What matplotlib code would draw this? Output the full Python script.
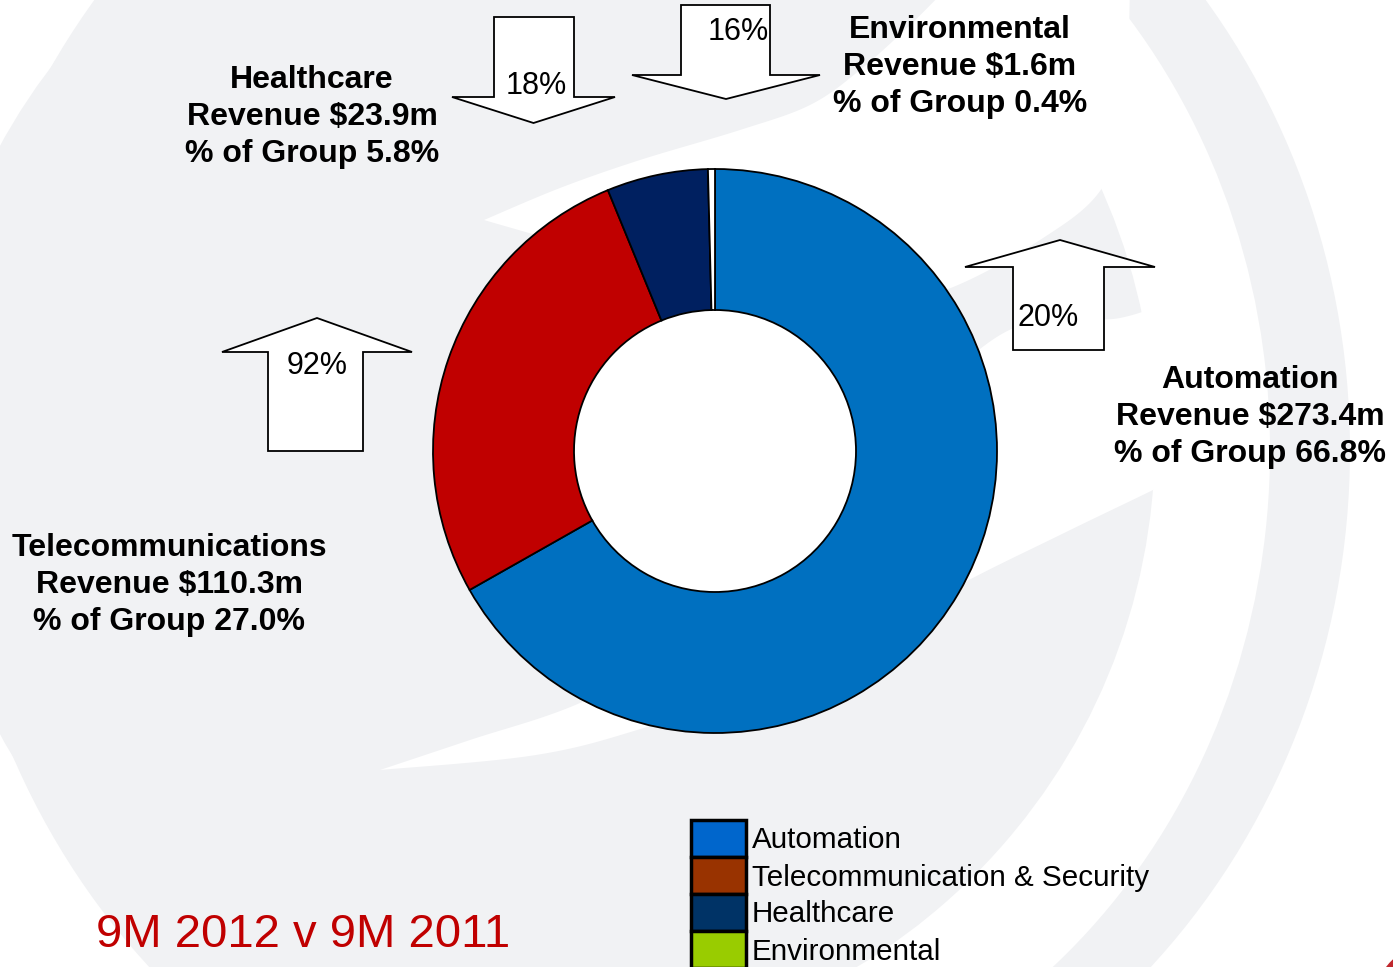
import numpy as np
import matplotlib
matplotlib.use("Agg")
import matplotlib.pyplot as plt
from matplotlib.patches import Ellipse, Circle, Polygon, Rectangle

plt.rcParams["font.family"] = ["Liberation Sans", "DejaVu Sans"]

# ======================
# Data
# ======================
segments = ["Automation", "Telecommunications", "Healthcare", "Environmental"]
share_pct = [66.8, 27.0, 5.8, 0.4]
revenue_m = [273.4, 110.3, 23.9, 1.6]
growth_pct = [20, 92, 18, 16]
growth_dir = ["up", "up", "down", "down"]
legend_names = ["Automation", "Telecommunication & Security", "Healthcare", "Environmental"]
period_title = "9M 2012 v 9M 2011"

ring_colors = ["#0070C0", "#C00000", "#002060", "#FFFFFF"]
legend_colors = ["#0066CC", "#993300", "#003366", "#99CC00"]

# ======================
# Layout (pixel coordinates, y down)
# ======================
W, H = 1393, 967
GREY = "#F1F2F4"
label_xy = [(1250, 417), (169, 585), (312, 117), (960, 67)]
# arrow: shaft x0, x1, head x0, x1, shaft end y, head base y, apex y
arrows = [
    (1013, 1104, 965, 1155, 350, 267, 240),
    (268, 363, 222, 412, 451, 352, 318),
    (494, 574, 452, 615, 17, 97, 123),
    (681, 770, 632, 820, 5, 75, 99),
]
arrow_text_xy = [(1048, 318), (317, 366), (536, 86), (738, 32)]


def smooth(pts, n=24):
    pts = np.asarray(pts, float)
    p = np.vstack([pts[0], pts, pts[-1]])
    out = []
    t = np.linspace(0, 1, n, endpoint=False)[:, None]
    for i in range(1, len(p) - 2):
        p0, p1, p2, p3 = p[i - 1], p[i], p[i + 1], p[i + 2]
        out.append(0.5 * (2 * p1 + (-p0 + p2) * t
                          + (2 * p0 - 5 * p1 + 4 * p2 - p3) * t ** 2
                          + (-p0 + 3 * p1 - 3 * p2 + p3) * t ** 3))
    out.append(pts[-1:])
    return np.vstack(out)


def swoosh(upper, lower):
    return np.vstack([smooth(upper), smooth(lower)[::-1]])


fig = plt.figure(figsize=(W / 100, H / 100), dpi=100)
bg = fig.add_axes([0, 0, 1, 1])
bg.set_xlim(0, W)
bg.set_ylim(H, 0)
bg.axis("off")
fig.patch.set_facecolor("white")

# ======================
# Watermark background
# ======================
bg.add_patch(Ellipse((650, 450), 1400, 1480, color=GREY, lw=0))
crescent = Ellipse((650, 450), 1240, 1360, color="white", lw=0)
bg.add_patch(crescent)
crescent.set_clip_path(Rectangle((600, -50), 900, 1100, transform=bg.transData))
bg.add_patch(Circle((540, 440), 615, color=GREY, lw=0))

top_swoosh = swoosh(
    [(484, 220), (560, 188), (640, 160), (740, 130), (810, 105), (860, 70), (910, 25), (945, -10)],
    [(484, 220), (600, 255), (715, 300), (850, 305), (940, 292), (1040, 240), (1104, 185), (1125, 100), (1130, -10)],
)
bg.add_patch(Polygon(top_swoosh, closed=True, color="white", lw=0))

bottom_swoosh = swoosh(
    [(380, 770), (470, 740), (580, 703), (700, 640), (850, 480), (1000, 335), (1120, 318), (1170, 300)],
    [(380, 770), (536, 755), (647, 727), (800, 675), (950, 590), (1060, 535), (1153, 490), (1175, 478)],
)
bg.add_patch(Polygon(bottom_swoosh, closed=True, color="white", lw=0))

bg.add_patch(Circle((1430, 1000), 55, color="#C0282E", lw=0))

# ======================
# Growth arrows
# ======================
for (sx0, sx1, hx0, hx1, y_end, y_base, y_apex), d, g, (tx, ty) in zip(
        arrows, growth_dir, growth_pct, arrow_text_xy):
    ax_mid = (hx0 + hx1) / 2
    pts = [(sx0, y_end), (sx0, y_base), (hx0, y_base), (ax_mid, y_apex),
           (hx1, y_base), (sx1, y_base), (sx1, y_end)]
    bg.add_patch(Polygon(pts, closed=True, facecolor="white", edgecolor="black", lw=1.3))
    bg.text(tx, ty, f"{g}%", fontsize=22, ha="center", va="center")

# ======================
# Segment labels
# ======================
for name, rev, pct, (lx, ly) in zip(segments, revenue_m, share_pct, label_xy):
    bg.text(lx, ly, f"{name}\nRevenue ${rev}m\n% of Group {pct:.1f}%",
            fontsize=23, fontweight="bold", ha="center", va="center",
            linespacing=1.3)

# ======================
# Legend
# ======================
row_h = 37
for i, (name, col) in enumerate(zip(legend_names, legend_colors)):
    top = 820 + i * row_h
    bg.add_patch(Rectangle((691, top), 55, row_h, facecolor=col,
                           edgecolor="black", lw=2.5, clip_on=False))
    bg.text(752, top + row_h / 2 + 2, name, fontsize=21.3, ha="left", va="center")

bg.text(96, 935, period_title, fontsize=34, color="#C00000", ha="left", va="center")

# ======================
# Donut
# ======================
cx, cy, r = 715, 451, 282
pax = fig.add_axes([(cx - r) / W, (H - cy - r) / H, 2 * r / W, 2 * r / H])
pax.add_patch(Circle((0, 0), 0.5, color="white", lw=0, zorder=0))
wedges, _ = pax.pie(share_pct, colors=ring_colors, startangle=90, counterclock=False,
                    radius=1, wedgeprops=dict(width=0.5, edgecolor="black", linewidth=1.3))
for w in wedges:
    w.set_clip_on(False)
pax.set_xlim(-1, 1)
pax.set_ylim(-1, 1)
pax.set_aspect("equal")
pax.axis("off")

fig.savefig("out.png", dpi=100)
